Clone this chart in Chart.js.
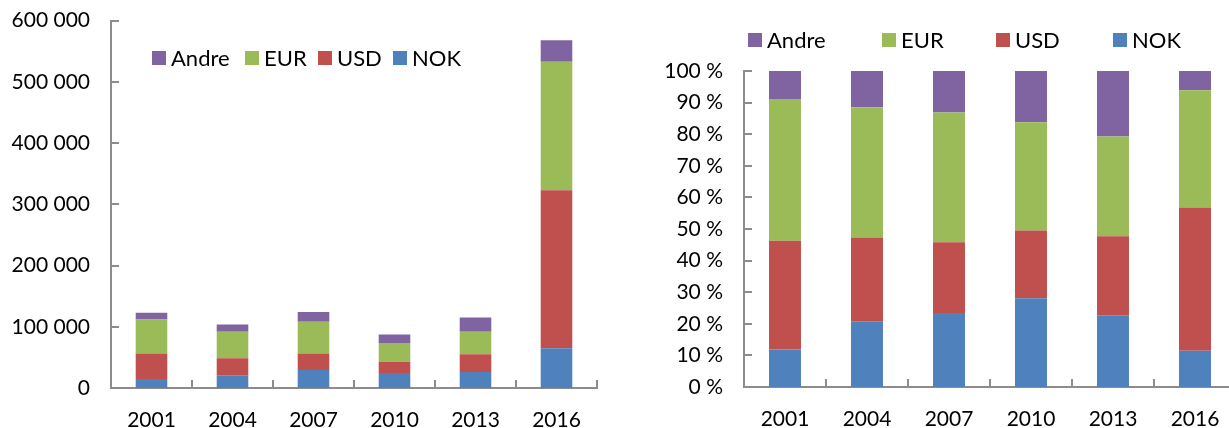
<!DOCTYPE html>
<html lang="no">

<head>
    <meta charset="UTF-8">
    <title>Valutafordeling</title>
    <script src="https://cdn.jsdelivr.net/npm/chart.js"></script>
    <style>
        html, body { margin: 0; padding: 0; background: #fff; width: 1229px; height: 428px; overflow: hidden; }
        body { position: relative; font-family: Lato, sans-serif; }
        canvas { position: absolute; top: 0; }
        #leftChart { left: 0; top: -5px; }
        #rightChart { left: 620px; }
        .legend-item { position: absolute; display: flex; align-items: center; font-size: 22px; color: #000; line-height: 1; white-space: nowrap; }
        .legend-item .box { width: 14px; height: 14px; margin-right: 5px; display: inline-block; }
    </style>
</head>

<body>
    <canvas id="leftChart" width="620" height="433"></canvas>
    <canvas id="rightChart" width="620" height="428"></canvas>
    <div id="legends"></div>

    <script>
        const years = ['2001', '2004', '2007', '2010', '2013', '2016'];

        // absolute values (left chart)
        const nokAbs = [14700, 21000, 29300, 24500, 26000, 65000];
        const usdAbs = [41800, 27400, 27200, 18500, 29000, 258000];
        const eurAbs = [55500, 43400, 51500, 30400, 37000, 210000];
        const andreAbs = [11000, 12000, 16000, 14100, 23000, 35000];

        // share in percent (right chart)
        const nokPct = [11.9, 20.8, 23.4, 28.1, 22.7, 11.5];
        const usdPct = [34.4, 26.5, 22.4, 21.4, 25.0, 45.3];
        const eurPct = [44.8, 41.2, 41.1, 34.3, 31.6, 37.1];
        const andrePct = [8.9, 11.5, 13.1, 16.2, 20.7, 6.1];

        const seriesNames = ['NOK', 'USD', 'EUR', 'Andre'];
        const seriesColors = ['#4F81BD', '#C0504D', '#9BBB59', '#8064A2'];

        const axisColor = '#8c8c8c';
        const tickFont = { family: 'Lato', size: 21 };

        // small inward tick marks like in the excel original
        const innerTicks = {
            id: 'innerTicks',
            afterDatasetsDraw(chart) {
                const { ctx, chartArea: a, scales: { x, y } } = chart;
                ctx.save();
                ctx.strokeStyle = axisColor;
                ctx.lineWidth = 2;
                ctx.beginPath();
                y.ticks.forEach((t, i) => {
                    const py = Math.round(y.getPixelForTick(i));
                    ctx.moveTo(a.left, py);
                    ctx.lineTo(a.left + 8, py);
                });
                const n = x.ticks.length;
                const step = x.getPixelForTick(1) - x.getPixelForTick(0);
                for (let i = 0; i < n; i++) {
                    const px = Math.round(x.getPixelForTick(i) + step / 2);
                    ctx.moveTo(px, a.bottom);
                    ctx.lineTo(px, a.bottom - 8);
                }
                ctx.stroke();
                ctx.restore();
            }
        };

        function makeDatasets(values) {
            return values.map((v, i) => ({
                label: seriesNames[i],
                data: v,
                backgroundColor: seriesColors[i],
                borderWidth: 0,
                stack: 's',
                barPercentage: 0.39,
                categoryPercentage: 1
            }));
        }

        function makeChart(id, values, yOpts, pad, yWidth, xHeight) {
            return new Chart(document.getElementById(id), {
                type: 'bar',
                data: { labels: years, datasets: makeDatasets(values) },
                plugins: [innerTicks],
                options: {
                    responsive: false,
                    animation: false,
                    layout: { padding: pad },
                    plugins: { legend: { display: false }, tooltip: { enabled: false } },
                    scales: {
                        x: {
                            stacked: true,
                            grid: { display: false },
                            border: { display: true, color: axisColor, width: 2 },
                            ticks: { color: '#000', font: tickFont, padding: 12, maxRotation: 0 },
                            afterFit: s => { s.height = xHeight; }
                        },
                        y: Object.assign({
                            stacked: true,
                            grid: { display: false },
                            border: { display: true, color: axisColor, width: 2 },
                            afterFit: s => { s.width = yWidth; }
                        }, yOpts)
                    }
                }
            });
        }

        makeChart('leftChart', [nokAbs, usdAbs, eurAbs, andreAbs], {
            min: 0, max: 600000,
            ticks: {
                stepSize: 100000, color: '#000', font: tickFont, padding: 13,
                callback: v => v === 0 ? '0' : String(v).replace(/\B(?=(\d{3})+(?!\d))/g, ' ')
            }
        }, { top: 2, right: 23, left: 0, bottom: 0 }, 111, 40);

        makeChart('rightChart', [nokPct, usdPct, eurPct, andrePct], {
            min: 0, max: 100,
            ticks: {
                stepSize: 10, color: '#000', font: tickFont, padding: 13,
                callback: v => v + ' %'
            }
        }, { top: 71, right: 4, left: 0, bottom: 0 }, 124, 41);

        // html legends, order as in the original
        const legendOrder = [3, 2, 1, 0];
        const legendPos = [
            { top: 58, lefts: [152, 245, 318, 393] },
            { top: 40, lefts: [748, 882, 996, 1113] }
        ];
        const legends = document.getElementById('legends');
        legendPos.forEach(lp => {
            legendOrder.forEach((s, k) => {
                const item = document.createElement('div');
                item.className = 'legend-item';
                item.style.left = lp.lefts[k] + 'px';
                item.style.top = (lp.top - 11) + 'px';
                item.style.height = '22px';
                item.innerHTML = '<span class="box" style="background:' + seriesColors[s] + '"></span>' + seriesNames[s];
                legends.appendChild(item);
            });
        });
    </script>
</body>

</html>
